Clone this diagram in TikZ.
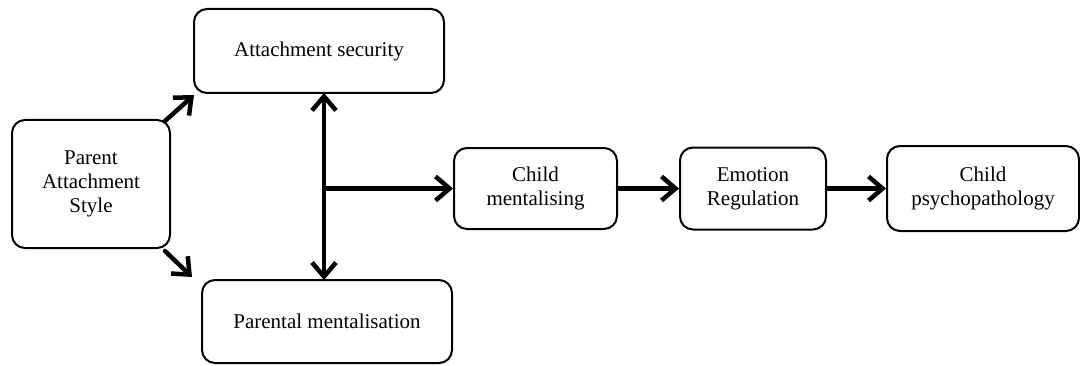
\documentclass[tikz,border=0pt]{standalone}
\usepackage{fontspec}
\setmainfont{Liberation Serif}
\usetikzlibrary{arrows.meta,calc}
\begin{document}
\begin{tikzpicture}[x=1pt,y=1pt,
  box/.style={draw=black, line width=2pt, rounded corners=13pt, fill=white,
    align=center, inner sep=0pt, font=\fontsize{21}{24}\selectfont},
  tip/.style={Straight Barb[length=14pt,width=24pt,line width=4.5pt]},
  arr/.style={line width=4.5pt, line cap=round, -{Straight Barb[length=14pt,width=24pt,line width=4.5pt]}},
  darr/.style={line width=4.5pt, line cap=round,
    {Straight Barb[length=14pt,width=24pt,line width=4.5pt]}-{Straight Barb[length=14pt,width=24pt,line width=4.5pt]}}]
\useasboundingbox (0,0) rectangle (1080,365);
\node[box, minimum width=158pt, minimum height=128pt] (pas) at (91,181) {Parent\\Attachment\\Style};
\node[box, minimum width=250pt, minimum height=84pt] (as) at (319,314) {Attachment security};
\node[box, minimum width=250pt, minimum height=83pt] (pm) at (327,43.5) {Parental mentalisation};
\node[box, minimum width=163pt, minimum height=81pt] (cm) at (535.5,176.5) {Child\\mentalising};
\node[box, minimum width=146pt, minimum height=82pt] (er) at (753,176.5) {Emotion\\Regulation};
\node[box, minimum width=192pt, minimum height=85pt] (cp) at (983,176.5) {Child\\psychopathology};
\coordinate (top) at (324,272);
\coordinate (bot) at (324,85);
\coordinate (br) at (324,176.5);
\draw[darr] (top) -- (bot);
\draw[arr] (br) -- (cm.west);
\draw[arr] (cm.east) -- (er.west);
\draw[arr] (er.east) -- (cp.west);
\draw[arr] ([xshift=-6pt,yshift=-2pt]pas.north east) -- ([xshift=1pt,yshift=-1pt]as.south west);
\draw[arr] ([xshift=-6pt,yshift=-2pt]pas.south east) -- ([xshift=-9pt,yshift=2pt]pm.north west);
\end{tikzpicture}
\end{document}
